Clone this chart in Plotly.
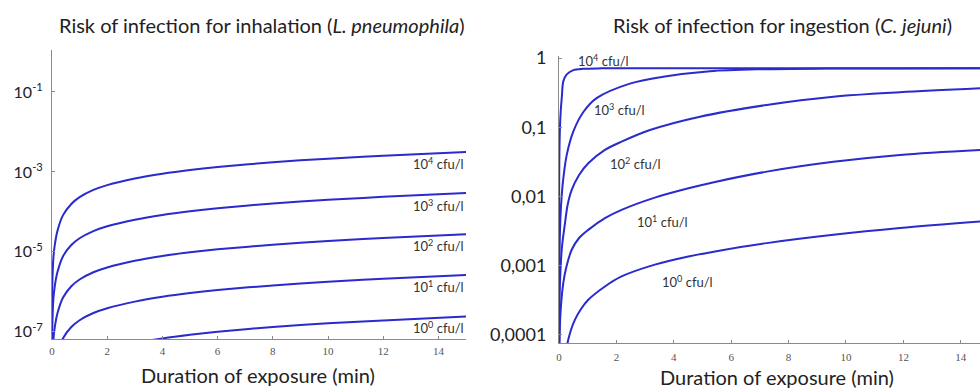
import plotly.graph_objects as go

# ---------------- data ----------------
# Left panel: inhalation, L. pneumophila (risk vs exposure time in min)
t_inh = [0.0003, 0.002, 0.01, 0.05, 0.1, 0.2, 0.4, 0.7, 1, 1.5, 2, 3, 4, 5, 6, 8, 10, 12, 15]
inh_1e4 = [4.5e-8, 2.8e-7, 1.41e-6, 7.1e-6, 1.48e-5, 3.4e-5, 8.3e-5, 1.58e-4, 2.34e-4, 3.55e-4,
           4.68e-4, 6.84e-4, 9.0e-4, 1.117e-3, 1.327e-3, 1.74e-3, 2.15e-3, 2.55e-3, 3.16e-3]
inh_1e3 = [4.2e-9, 2.6e-8, 1.32e-7, 6.6e-7, 1.38e-6, 3.16e-6, 7.8e-6, 1.48e-5, 2.19e-5, 3.31e-5,
           4.37e-5, 6.38e-5, 8.41e-5, 1.042e-4, 1.239e-4, 1.62e-4, 2.0e-4, 2.38e-4, 2.95e-4]
inh_1e2 = [3.9e-10, 2.45e-9, 1.23e-8, 6.2e-8, 1.29e-7, 2.95e-7, 7.2e-7, 1.38e-6, 2.04e-6, 3.09e-6,
           4.07e-6, 5.96e-6, 7.85e-6, 9.72e-6, 1.156e-5, 1.51e-5, 1.87e-5, 2.22e-5, 2.75e-5]
inh_1e1 = [3.7e-11, 2.3e-10, 1.17e-9, 5.9e-9, 1.23e-8, 2.8e-8, 6.9e-8, 1.32e-7, 1.95e-7, 2.95e-7,
           3.89e-7, 5.69e-7, 7.5e-7, 9.29e-7, 1.104e-6, 1.45e-6, 1.79e-6, 2.12e-6, 2.63e-6]
inh_1e0 = [3.4e-12, 2.1e-11, 1.07e-10, 5.4e-10, 1.12e-9, 2.57e-9, 6.3e-9, 1.2e-8, 1.78e-8, 2.69e-8,
           3.55e-8, 5.19e-8, 6.84e-8, 8.47e-8, 1.007e-7, 1.32e-7, 1.63e-7, 1.93e-7, 2.4e-7]

# Right panel: ingestion, C. jejuni (each curve read at its own times)
t_ing_1e4 = [0.00002, 0.0002, 0.002, 0.01, 0.03, 0.06, 0.1, 0.15, 0.27, 0.5, 0.85, 1.5, 4, 8, 12, 15]
ing_1e4 = [6e-5, 6e-4, 6e-3, 0.03, 0.09, 0.17, 0.28, 0.46, 0.58, 0.67, 0.70, 0.71, 0.71, 0.71, 0.71, 0.71]
t_ing_1e3 = [0.0003, 0.002, 0.01, 0.05, 0.1, 0.15, 0.27, 0.5, 0.85, 1.31, 2.47, 3.63, 5.26, 7, 9.3, 12, 15]
ing_1e3 = [2.7e-5, 1.8e-4, 9e-4, 5e-3, 0.011, 0.0182, 0.0398, 0.087, 0.166, 0.263, 0.427, 0.537,
           0.646, 0.69, 0.705, 0.708, 0.71]
t_ing_1e2 = [0.001, 0.005, 0.03, 0.1, 0.209, 0.3, 0.443, 0.7, 1.02, 1.6, 2.18, 3.17, 4.91, 7.24,
             9.56, 11.88, 15]
ing_1e2 = [1.8e-5, 9e-5, 5e-4, 1.8e-3, 4.1e-3, 7.5e-3, 0.0124, 0.0204, 0.0301, 0.047, 0.0618,
           0.091, 0.142, 0.21, 0.276, 0.32, 0.37]
t_ing_1e1 = [0.002, 0.01, 0.05, 0.15, 0.25, 0.443, 0.7, 1.02, 1.6, 2.18, 3.34, 4.51, 5.44, 7.24,
             9.56, 11.88, 15]
ing_1e1 = [1e-5, 5e-5, 2e-4, 5.6e-4, 9.3e-4, 1.69e-3, 2.5e-3, 3.28e-3, 4.84e-3, 6.38e-3, 9.6e-3,
           0.0131, 0.0162, 0.0228, 0.0316, 0.0398, 0.0477]
t_ing_1e0 = [0.25, 0.324, 0.42, 0.557, 0.75, 1.02, 1.6, 2.18, 3.34, 4.51, 5.44, 7.24, 9.56, 11.88, 15]
ing_1e0 = [6e-5, 8.5e-5, 1.18e-4, 1.65e-4, 2.3e-4, 3.2e-4, 4.98e-4, 6.95e-4, 1.03e-3, 1.35e-3,
           1.6e-3, 2.11e-3, 2.78e-3, 3.48e-3, 4.43e-3]

conc_labels = ["10<sup>4</sup> cfu/l", "10<sup>3</sup> cfu/l", "10<sup>2</sup> cfu/l",
               "10<sup>1</sup> cfu/l", "10<sup>0</sup> cfu/l"]

x_ticks = [0, 2, 4, 6, 8, 10, 12, 14]
inh_yticks = [1e-7, 1e-5, 1e-3, 1e-1]
inh_yticktext = ["10<sup>-7</sup>", "10<sup>-5</sup>", "10<sup>-3</sup>", "10<sup>-1</sup>"]
ing_yticks = [1e-4, 1e-3, 1e-2, 1e-1, 1]
ing_yticktext = ["0,0001", "0,001", "0,01", "0,1", "1"]

# label positions (x in min, y as log10 of risk)
inh_label_y = [-2.78, -3.83, -4.83, -5.87, -6.9]
ing_label_x = [0.6, 1.15, 1.71, 2.65, 3.52]
ing_label_y = [-0.03, -0.75, -1.52, -2.36, -3.23]

# ---------------- figure ----------------
W, H = 980, 389
LINE = "rgb(42,42,205)"
FONT = "Lato, 'Open Sans', sans-serif"
SERIF = "'Liberation Serif', 'DejaVu Serif', serif"
TXT = "#222222"

fig = go.Figure()

line_style = dict(color=LINE, width=2, shape="spline", smoothing=0.9)

for s in [inh_1e4, inh_1e3, inh_1e2, inh_1e1, inh_1e0]:
    fig.add_trace(go.Scatter(x=t_inh, y=s, mode="lines", xaxis="x", yaxis="y",
                             line=line_style, showlegend=False, hoverinfo="skip"))
for tt, s in [(t_ing_1e4, ing_1e4), (t_ing_1e3, ing_1e3), (t_ing_1e2, ing_1e2),
              (t_ing_1e1, ing_1e1), (t_ing_1e0, ing_1e0)]:
    fig.add_trace(go.Scatter(x=tt, y=s, mode="lines", xaxis="x2", yaxis="y2",
                             line=line_style, showlegend=False, hoverinfo="skip"))


def px_x(p):
    return p / W


def px_y(p):
    return 1 - p / H


axis_common = dict(showgrid=False, zeroline=False, showline=True, linecolor="#8a8a8a",
                   linewidth=1, automargin=False)

fig.update_layout(
    width=W, height=H, autosize=False,
    margin=dict(l=0, r=0, t=0, b=0),
    paper_bgcolor="white", plot_bgcolor="white",
    showlegend=False,
    xaxis=dict(domain=[px_x(52), px_x(466)], range=[0, 15], anchor="y",
               tickvals=x_ticks, ticks="inside", ticklen=3, tickcolor="#8a8a8a",
               tickfont=dict(family=SERIF, size=11, color="#555555"),
               ticklabelstandoff=2, **axis_common),
    yaxis=dict(domain=[px_y(339), px_y(50)], type="log", range=[-7.18, 0.05], anchor="x",
               tickvals=inh_yticks, ticktext=inh_yticktext, ticks="inside", ticklen=3,
               tickcolor="#8a8a8a", tickfont=dict(family=FONT, size=16, color=TXT),
               ticklabelstandoff=5, **axis_common),
    xaxis2=dict(domain=[px_x(559), 1.0], range=[0, 14.67], anchor="y2",
                tickvals=x_ticks, ticks="inside", ticklen=3, tickcolor="#8a8a8a",
                tickfont=dict(family=SERIF, size=11, color="#555555"),
                ticklabelstandoff=4, **axis_common),
    yaxis2=dict(domain=[px_y(343), px_y(56)], type="log", range=[-4.12, 0.03], anchor="x2",
                tickvals=ing_yticks, ticktext=ing_yticktext, ticks="inside", ticklen=3,
                tickcolor="#8a8a8a", tickfont=dict(family=FONT, size=18, color=TXT),
                ticklabelstandoff=8, **axis_common),
)

ann = []
ann.append(dict(text="Risk of infection for inhalation (<i>L. pneumophila</i>)", x=px_x(262), y=px_y(25),
                xref="paper", yref="paper", xanchor="center", yanchor="middle", showarrow=False,
                font=dict(family=FONT, size=20, color=TXT)))
ann.append(dict(text="Risk of infection for ingestion (<i>C. jejuni</i>)", x=px_x(782), y=px_y(25),
                xref="paper", yref="paper", xanchor="center", yanchor="middle", showarrow=False,
                font=dict(family=FONT, size=20, color=TXT)))
ann.append(dict(text="Duration of exposure (min)", x=px_x(258), y=px_y(375),
                xref="paper", yref="paper", xanchor="center", yanchor="middle", showarrow=False,
                font=dict(family=FONT, size=20, color=TXT)))
ann.append(dict(text="Duration of exposure (min)", x=px_x(777), y=px_y(377),
                xref="paper", yref="paper", xanchor="center", yanchor="middle", showarrow=False,
                font=dict(family=FONT, size=20, color=TXT)))
for lab, ly in zip(conc_labels, inh_label_y):
    ann.append(dict(text=lab, x=15, y=ly, xref="x", yref="y", xanchor="right", yanchor="middle",
                    showarrow=False, font=dict(family=FONT, size=13, color="#333333")))
for lab, lx, ly in zip(conc_labels, ing_label_x, ing_label_y):
    ann.append(dict(text=lab, x=lx, y=ly, xref="x2", yref="y2", xanchor="left", yanchor="middle",
                    showarrow=False, font=dict(family=FONT, size=13, color="#333333")))

fig.update_layout(annotations=ann)

fig.write_html("out.html", config={"displayModeBar": False},
               post_script="document.body.style.margin='0px';document.body.style.overflow='hidden';")
